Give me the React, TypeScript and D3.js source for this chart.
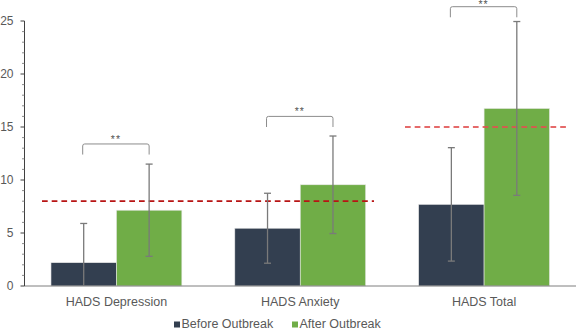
import React from "react";
import * as d3 from "d3";

const categories = ["HADS Depression", "HADS Anxiety", "HADS Total"];
const seriesNames = ["Before Outbreak", "After Outbreak"];
const beforeMeans = [2.2, 5.45, 7.7];
const afterMeans = [7.15, 9.55, 16.75];
const beforeSD = [3.7, 3.3, 5.35];
const afterSD = [4.35, 4.6, 8.2];
const thresholds = [8, 15];
const bracketLevels = [12.4, 15.0, 25.35];
const sigLabels = ["**", "**", "**"];
const yTicks = [0, 5, 10, 15, 20, 25];

const W = 576;
const H = 330;
const M = { left: 24.5, right: 0, top: 21, bottom: 44 };
const colors = ["#333F50", "#70AD47"];
const textColor = "#595959";
const font = "'Liberation Sans', Arial, sans-serif";

export default function App() {
  const y = d3.scaleLinear().domain([0, 25]).range([286, 21]);
  const p = 53 / 184;
  const x0 = d3.scaleBand<string>().domain(categories).range([M.left, W]).paddingInner(p).paddingOuter(p / 2);
  const x1 = d3.scaleBand<string>().domain(seriesNames).range([0, x0.bandwidth()]);
  const means = [beforeMeans, afterMeans];
  const sds = [beforeSD, afterSD];
  const minor = d3.range(0, 26, 1).filter((v) => v % 5 !== 0);

  const barCenter = (ci: number, si: number) =>
    (x0(categories[ci]) as number) + (x1(seriesNames[si]) as number) + x1.bandwidth() / 2;

  const thrLines = [
    { value: thresholds[0], x1: 42, x2: 374, color: "#B81414", opacity: 1 },
    { value: thresholds[1], x1: 405, x2: 566, color: "#E05050", opacity: 0.85 },
  ];

  return (
    <div style={{ position: "fixed", left: 0, top: 0, width: W, height: H, background: "#fff" }}>
      <svg width={W} height={H} style={{ display: "block", fontFamily: font }}>
        <rect width={W} height={H} fill="#fff" />
        {categories.map((c, ci) =>
          seriesNames.map((s, si) => {
            const v = means[si][ci];
            const bx = (x0(c) as number) + (x1(s) as number);
            return (
              <rect
                key={c + s}
                x={bx}
                y={y(v)}
                width={x1.bandwidth()}
                height={y(0) - y(v)}
                fill={colors[si]}
                stroke="#e8e8e8"
                strokeWidth={0.6}
              />
            );
          })
        )}
        {thrLines.map((t, i) => (
          <line
            key={i}
            x1={t.x1}
            x2={t.x2}
            y1={y(t.value)}
            y2={y(t.value)}
            stroke={t.color}
            strokeOpacity={t.opacity}
            strokeWidth={1.8}
            strokeDasharray="5.7,4"
          />
        ))}
        {categories.map((c, ci) =>
          seriesNames.map((s, si) => {
            const cx = barCenter(ci, si);
            const m = means[si][ci];
            const sd = sds[si][ci];
            const top = m + sd;
            const bot = Math.max(0, m - sd);
            return (
              <g key={"e" + c + s} stroke="#7a7a7a" strokeWidth={1.3}>
                <line x1={cx} x2={cx} y1={y(top)} y2={y(bot)} />
                <line x1={cx - 3.5} x2={cx + 3.5} y1={y(top)} y2={y(top)} />
                {m - sd > 0 && <line x1={cx - 3.5} x2={cx + 3.5} y1={y(bot)} y2={y(bot)} />}
              </g>
            );
          })
        )}
        {categories.map((c, ci) => {
          const xa = barCenter(ci, 0) - 1;
          const xb = barCenter(ci, 1);
          const lv = bracketLevels[ci];
          const yb = y(lv);
          const yt = y(lv + 1);
          return (
            <g key={"b" + c}>
              <path
                d={`M${xa},${yb} V${yt + 2} Q${xa},${yt} ${xa + 2},${yt} H${xb - 2} Q${xb},${yt} ${xb},${yt + 2} V${yb}`}
                fill="none"
                stroke="#8c8c8c"
                strokeWidth={1}
              />
              <text x={(xa + xb) / 2} y={Math.max(yt - 1, 8)} textAnchor="middle" fontSize={10.5} fill="#555" letterSpacing={1}>
                {sigLabels[ci]}
              </text>
            </g>
          );
        })}
        <line x1={M.left} x2={W} y1={y(0)} y2={y(0)} stroke="#7f7f7f" strokeWidth={1} />
        <line x1={M.left} x2={M.left} y1={y(25)} y2={y(0)} stroke="#404040" strokeWidth={1} />
        {yTicks.map((t) => (
          <g key={"t" + t}>
            <line x1={20.5} x2={M.left} y1={y(t)} y2={y(t)} stroke="#404040" strokeWidth={1} />
            <text x={13.5} y={y(t) + 4.3} textAnchor="end" fontSize={12} fill={textColor}>
              {t}
            </text>
          </g>
        ))}
        {minor.map((t) => (
          <line key={"m" + t} x1={22} x2={M.left} y1={y(t)} y2={y(t)} stroke="#707070" strokeWidth={0.8} />
        ))}
        {categories.map((c) => (
          <text
            key={"x" + c}
            x={(x0(c) as number) + x0.bandwidth() / 2}
            y={305.5}
            textAnchor="middle"
            fontSize={12.5}
            fill={textColor}
          >
            {c}
          </text>
        ))}
        {seriesNames.map((s, si) => {
          const lx = [174, 292][si];
          return (
            <g key={"l" + s}>
              <rect x={lx} y={321.5} width={6} height={6} fill={colors[si]} />
              <text x={lx + 7.5} y={328} fontSize={12.5} fill={textColor}>
                {s}
              </text>
            </g>
          );
        })}
      </svg>
    </div>
  );
}
